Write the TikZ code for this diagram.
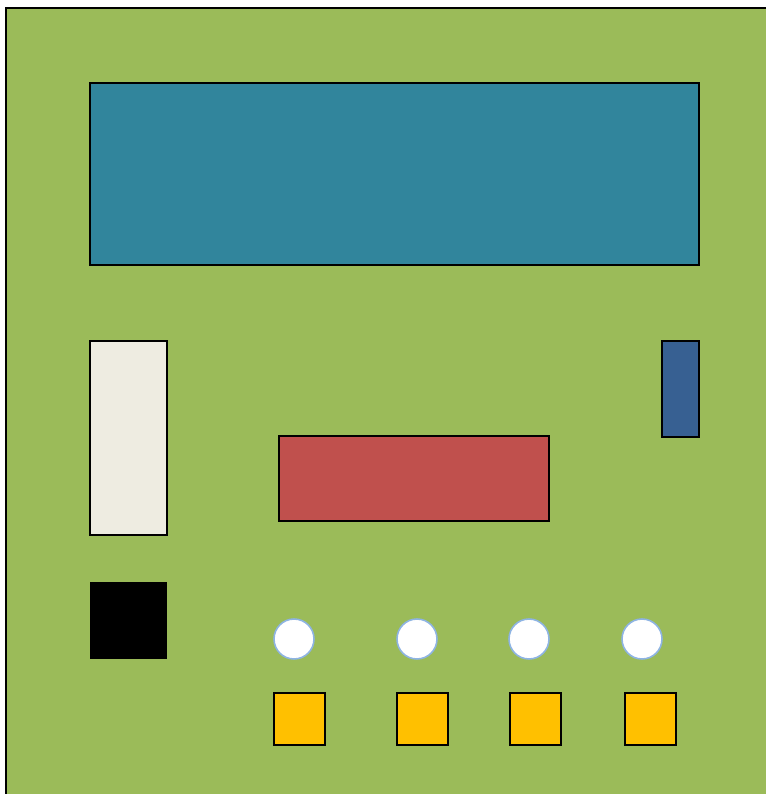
\documentclass[tikz,border=0pt]{standalone}
\usepackage{xcolor}
\usepackage{tikz}
\usetikzlibrary{positioning}

\definecolor{boardgreen}{HTML}{9BBB59}
\definecolor{lcdteal}{HTML}{31859C}
\definecolor{cardwhite}{HTML}{EEECE1}
\definecolor{portblue}{HTML}{376092}
\definecolor{chipred}{HTML}{C0504D}
\definecolor{keyyellow}{HTML}{FFC000}
\definecolor{ledring}{HTML}{8EB4E3}

\begin{document}
\begin{tikzpicture}[
      x=0.02cm, y=-0.02cm,
      part/.style={draw=black, line width=1.1pt, inner sep=0pt, outer sep=0pt},
      led/.style={circle, draw=ledring, fill=white, line width=0.9pt,
      minimum size=0.8cm, inner sep=0pt},
      key/.style={part, fill=keyyellow, minimum width=1.02cm, minimum height=1.04cm}
    ]
    \useasboundingbox (0,0) rectangle (766,794);
    % board
    \draw[fill=boardgreen, line width=1.1pt] (6,8) rectangle (790,820);

    \node[part, fill=lcdteal, anchor=north west, minimum width=12.18cm,
    minimum height=3.64cm] (lcd) at (90,83) {};
    \node[part, fill=cardwhite, anchor=north west, minimum width=1.54cm,
    minimum height=3.88cm] (card) at (90,341) {};
    \node[part, fill=portblue, anchor=north west, minimum width=0.74cm,
    minimum height=1.92cm] (port) at (662,341) {};
    \node[part, fill=chipred, anchor=north west, minimum width=5.4cm,
    minimum height=1.7cm] (chip) at (279,436) {};
    \node[fill=black, anchor=north west, inner sep=0pt, minimum width=1.54cm,
    minimum height=1.54cm] (power) at (90,582) {};

    % leds and keys
    \foreach \n/\lx/\kx in {1/294/299.5, 2/417/422.5, 3/529/535.5, 4/642/650.5} {
      \node[led] (led\n) at (\lx,639) {};
      \node[key] (key\n) at (\kx,719) {};
    }
  \end{tikzpicture}
\end{document}
